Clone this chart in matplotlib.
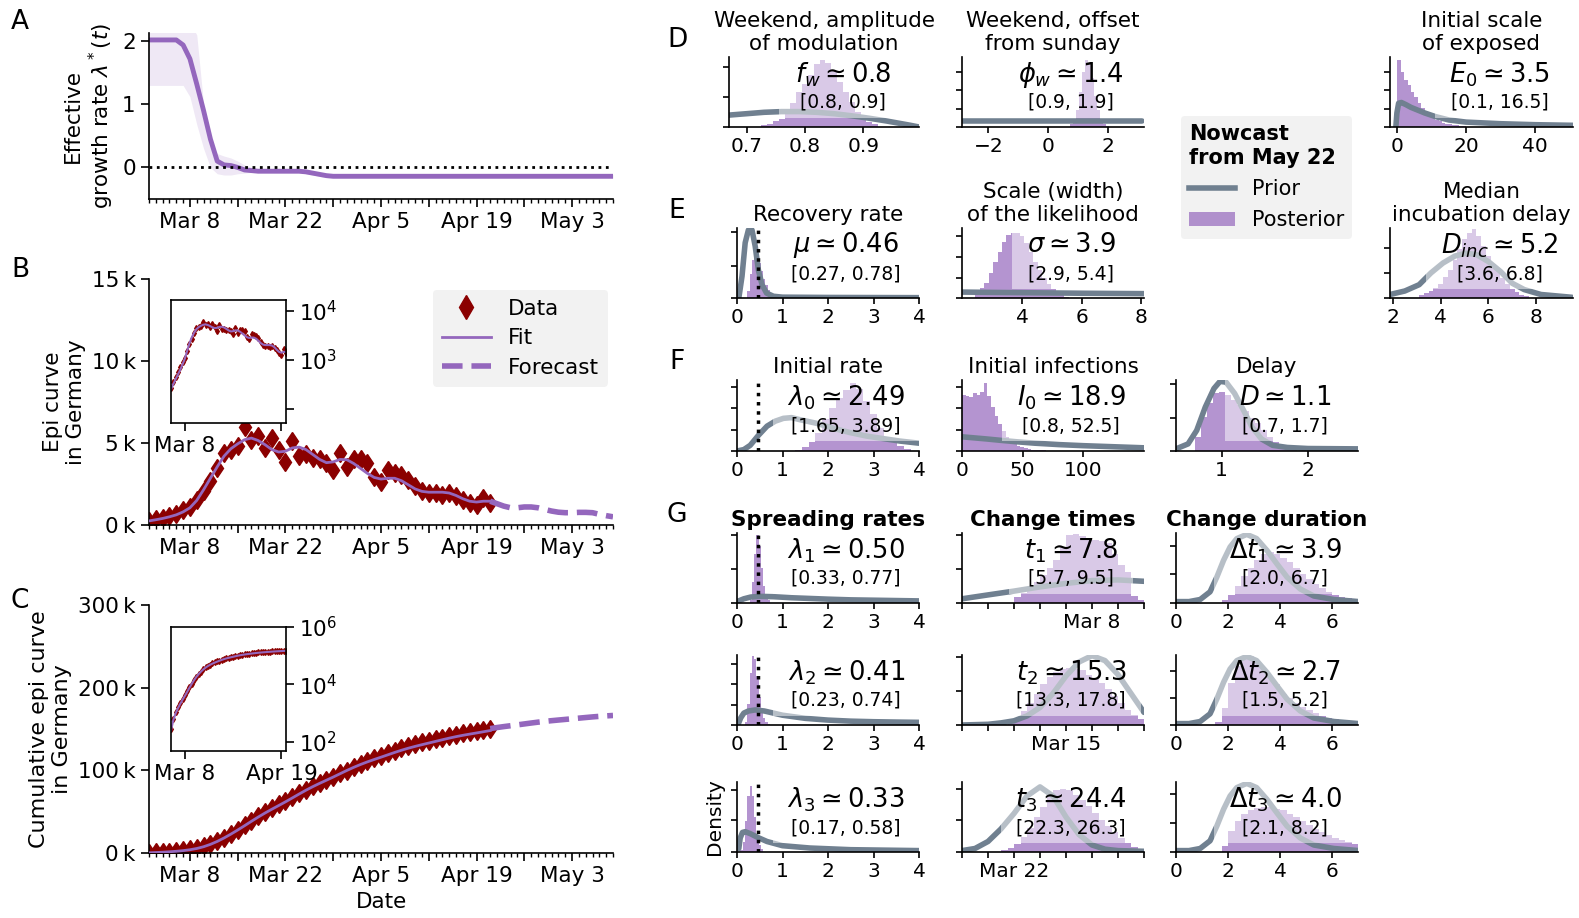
import numpy as np
import pandas as pd
import matplotlib
matplotlib.use("Agg")
import matplotlib.pyplot as plt
import matplotlib.dates as mdates
from matplotlib.ticker import FuncFormatter
from matplotlib.patches import Rectangle, Patch
from matplotlib.lines import Line2D
from matplotlib.transforms import Bbox

plt.rcParams["font.family"] = ["DejaVu Sans"]
plt.rcParams["mathtext.fontset"] = "dejavusans"
plt.rcParams["axes.linewidth"] = 1.2

W, H = 1579, 918
PURPLE = "#9467bd"
PRIOR = "slategray"
DATA = "darkred"

# ---------------- left column data ----------------
# effective growth rate, one value per day from Mar 2
lam_med = ([2.02, 2.02, 2.02, 2.02, 2.02, 1.94, 1.72, 1.32, 0.9, 0.45, 0.1, 0.04, 0.03, 0.0,
            -0.04, -0.05, -0.06, -0.06, -0.06, -0.06, -0.06, -0.06, -0.06, -0.07, -0.09, -0.11, -0.13]
           + [-0.14] * 42)
lam_hi = ([2.3, 2.3, 2.3, 2.3, 2.3, 2.3, 2.3, 2.1, 1.0, 0.42, 0.22, 0.18, 0.15, 0.1, 0.04, 0.0,
           -0.02, -0.03, -0.03, -0.03, -0.03, -0.03, -0.03, -0.05, -0.07, -0.09, -0.1]
          + [-0.11] * 42)
lam_lo = ([1.3, 1.3, 1.3, 1.3, 1.3, 1.3, 1.12, 0.68, 0.3, 0.0, -0.1, -0.12, -0.12, -0.1, -0.09,
           -0.08, -0.08, -0.08, -0.08, -0.08, -0.08, -0.08, -0.08, -0.1, -0.12, -0.14, -0.16]
          + [-0.17] * 42)

# new cases (thousands), Mar 2 .. Apr 21
new_cases_k = [0.27, 0.35, 0.45, 0.55, 0.7, 0.9, 1.1, 1.5, 2.1, 2.7, 3.45, 4.4, 4.6, 4.8, 6.0,
               5.2, 5.4, 4.7, 5.3, 4.6, 3.85, 5.1, 4.2, 4.3, 4.1, 4.0, 3.8, 3.35, 4.4, 3.55,
               4.05, 4.0, 3.8, 2.95, 2.65, 3.35, 3.15, 3.05, 2.75, 2.35, 2.05, 1.95, 1.95, 1.85,
               1.95, 1.75, 1.55, 1.35, 1.25, 1.65, 1.35]
fit_k = [0.25, 0.32, 0.4, 0.5, 0.62, 0.8, 1.05, 1.5, 2.15, 2.85, 3.55, 4.2, 4.65, 4.95, 5.2,
         5.3, 5.15, 4.9, 4.6, 4.45, 4.5, 4.7, 4.75, 4.6, 4.3, 4.0, 3.8, 3.85, 4.0, 3.98,
         3.75, 3.45, 3.15, 2.9, 2.8, 2.85, 2.85, 2.7, 2.45, 2.2, 2.05, 2.0, 2.0, 2.0,
         1.95, 1.8, 1.6, 1.45, 1.4, 1.45, 1.45]
# forecast (thousands), Apr 21 .. May 9
forecast_k = [1.45, 1.3, 1.15, 1.05, 1.05, 1.1, 1.1, 1.05, 0.95, 0.85, 0.78, 0.75, 0.75, 0.77,
              0.77, 0.75, 0.65, 0.57, 0.5]

start = pd.Timestamp("2020-03-02")
days_a = pd.date_range(start, periods=len(lam_med))
days_b = pd.date_range(start, periods=len(new_cases_k))
days_f = pd.date_range("2020-04-21", periods=len(forecast_k))

new_cases = np.array(new_cases_k) * 1000
fit = np.array(fit_k) * 1000
forecast = np.array(forecast_k) * 1000
cum_cases = np.cumsum(new_cases)
cum_fit = np.cumsum(fit)
cum_forecast = cum_cases[-1] + np.concatenate([[0], np.cumsum(forecast[1:])])

# ---------------- right column data (heights as fraction of panel height) ----------------
fw_prior_x = [0.67, 0.70, 0.73, 0.76, 0.79, 0.82, 0.85, 0.88, 0.91, 0.94, 0.96, 0.98, 0.995]
fw_prior_y = [0.17, 0.19, 0.21, 0.22, 0.22, 0.21, 0.19, 0.16, 0.125, 0.085, 0.055, 0.025, 0.0]
fw_hist = [0.03, 0.05, 0.08, 0.12, 0.22, 0.35, 0.50, 0.62, 0.75, 0.90, 0.96, 0.92, 0.80,
           0.65, 0.50, 0.36, 0.22, 0.12, 0.07, 0.04]

phi_prior_x = [-3.14, 3.14]
phi_prior_y = [0.08, 0.08]
phi_hist = [0.04, 0.1, 0.25, 0.5, 0.78, 0.96, 0.9, 0.7, 0.45, 0.25, 0.12, 0.05, 0.02]

e0_prior_x = [-0.4, -0.1, 0.4, 1.2, 2.5, 4, 6, 8, 11, 15, 20, 30, 40, 51]
e0_prior_y = [0.0, 0.2, 0.34, 0.35, 0.32, 0.28, 0.24, 0.2, 0.15, 0.1, 0.07, 0.047, 0.033, 0.024]
e0_hist = [0.96, 0.79, 0.67, 0.60, 0.50, 0.43, 0.34, 0.27, 0.22, 0.17, 0.13, 0.10, 0.08,
           0.06, 0.05, 0.04, 0.03, 0.025, 0.02, 0.015]

mu_prior_x = [0.0, 0.04, 0.11, 0.18, 0.25, 0.29, 0.33, 0.4, 0.47, 0.55, 0.65, 0.8, 1.0, 2.0, 4.0]
mu_prior_y = [0.0, 0.0, 0.31, 0.79, 0.97, 0.99, 0.97, 0.74, 0.4, 0.19, 0.07, 0.025, 0.012, 0.008, 0.005]
mu_hist = [0.1, 0.35, 0.55, 0.62, 0.6, 0.5, 0.38, 0.27, 0.18, 0.12, 0.07, 0.04, 0.02]

sig_prior_x = [1.9, 3, 4, 5, 6, 7, 8.2]
sig_prior_y = [0.085, 0.08, 0.076, 0.072, 0.068, 0.065, 0.062]
sig_hist = [0.08, 0.14, 0.22, 0.36, 0.52, 0.66, 0.8, 0.9, 0.93, 0.93, 0.88, 0.79, 0.66,
            0.52, 0.4, 0.29, 0.2, 0.13, 0.08, 0.04, 0.02]

dinc_prior_x = [1.88, 2.5, 3.1, 3.6, 4.1, 4.6, 5.06, 5.5, 6.0, 6.5, 7.0, 7.5, 8.2, 9.5]
dinc_prior_y = [0.05, 0.1, 0.19, 0.36, 0.5, 0.6, 0.64, 0.62, 0.52, 0.38, 0.21, 0.12, 0.05, 0.01]
dinc_hist = [0.04, 0.07, 0.1, 0.15, 0.2, 0.3, 0.4, 0.55, 0.7, 0.85, 0.93, 0.98, 0.88, 0.75,
             0.6, 0.48, 0.38, 0.28, 0.2, 0.13, 0.09, 0.05, 0.03]

lam0_prior_x = [0.0, 0.15, 0.29, 0.47, 0.66, 0.84, 1.02, 1.2, 1.39, 1.75, 2.12, 2.48, 2.85, 3.21, 3.58, 4.0]
lam0_prior_y = [0.0, 0.02, 0.08, 0.22, 0.35, 0.42, 0.46, 0.47, 0.44, 0.39, 0.32, 0.26, 0.21, 0.175, 0.14, 0.11]
lam0_hist = [0.02, 0.05, 0.12, 0.25, 0.45, 0.6, 0.74, 0.86, 0.96, 0.88, 0.7, 0.52, 0.33,
             0.2, 0.12, 0.07, 0.03]

i0_prior_x = [0, 10, 20, 32, 45, 60, 80, 100, 125, 150]
i0_prior_y = [0.2, 0.185, 0.17, 0.15, 0.13, 0.11, 0.09, 0.075, 0.06, 0.045]
i0_hist = [0.79, 0.77, 0.76, 0.81, 0.79, 0.83, 0.96, 0.78, 0.62, 0.5, 0.38, 0.28, 0.2, 0.14,
           0.1, 0.07, 0.05, 0.04, 0.03, 0.02, 0.02, 0.01, 0.01]

d_prior_x = [0.47, 0.61, 0.71, 0.81, 0.91, 0.98, 1.05, 1.15, 1.25, 1.35, 1.46, 1.59, 1.76, 2.0, 2.58]
d_prior_y = [0.03, 0.1, 0.29, 0.62, 0.88, 0.98, 0.97, 0.81, 0.58, 0.34, 0.17, 0.08, 0.05, 0.035, 0.03]
d_hist = [0.2, 0.48, 0.67, 0.81, 0.83, 0.79, 0.72, 0.65, 0.56, 0.47, 0.39, 0.3, 0.2, 0.13,
          0.08, 0.05, 0.03]

lam1_prior_x = [0.0, 0.15, 0.3, 0.5, 0.8, 1.2, 1.6, 2.0, 2.5, 3.0, 3.5, 4.0]
lam1_prior_y = [0.02, 0.06, 0.085, 0.095, 0.09, 0.075, 0.065, 0.055, 0.045, 0.04, 0.035, 0.03]
lam1_hist = [0.05, 0.3, 0.7, 0.97, 0.82, 0.5, 0.25, 0.1, 0.04]

lam2_prior_x = [0.02, 0.08, 0.15, 0.25, 0.4, 0.6, 0.8, 1.0, 1.5, 2.0, 2.5, 3.0, 3.5, 4.0]
lam2_prior_y = [0.0, 0.1, 0.17, 0.2, 0.215, 0.2, 0.17, 0.14, 0.095, 0.07, 0.055, 0.047, 0.042, 0.038]
lam2_hist = [0.05, 0.3, 0.75, 0.98, 0.95, 0.7, 0.4, 0.22, 0.1, 0.05, 0.02]

lam3_prior_x = [0.04, 0.07, 0.12, 0.18, 0.3, 0.45, 0.66, 1.0, 1.6, 2.5, 4.0]
lam3_prior_y = [0.05, 0.2, 0.28, 0.29, 0.26, 0.21, 0.15, 0.09, 0.057, 0.033, 0.02]
lam3_hist = [0.03, 0.15, 0.45, 0.8, 0.95, 0.8, 0.5, 0.25, 0.1, 0.04]

# change times, in days of March
t1_prior_x = [3, 3.9, 5, 6, 7, 8, 9, 10]
t1_prior_y = [0.06, 0.11, 0.17, 0.23, 0.28, 0.32, 0.33, 0.31]
t1_hist = [0.08, 0.14, 0.22, 0.3, 0.4, 0.5, 0.62, 0.8, 0.97, 0.98, 0.96, 0.9, 0.9, 0.88,
           0.86, 0.7, 0.55, 0.45, 0.1, 0.04]

t2_prior_x = [11, 12, 12.5, 13, 13.5, 14, 14.5, 15, 15.5, 16, 16.5, 17, 17.5, 18]
t2_prior_y = [0.0, 0.01, 0.03, 0.06, 0.13, 0.25, 0.45, 0.7, 0.9, 0.99, 0.92, 0.72, 0.45, 0.18]
t2_hist = [0.03, 0.1, 0.2, 0.32, 0.45, 0.58, 0.68, 0.76, 0.8, 0.82, 0.8, 0.78, 0.72, 0.66,
           0.6, 0.52, 0.42, 0.32, 0.22, 0.14, 0.08]

t3_prior_x = [20, 20.5, 21, 21.5, 22, 22.5, 23, 23.5, 24, 24.5, 25, 25.5, 26, 27]
t3_prior_y = [0.02, 0.05, 0.15, 0.33, 0.55, 0.8, 0.93, 0.8, 0.5, 0.25, 0.1, 0.04, 0.02, 0.01]
t3_hist = [0.03, 0.06, 0.12, 0.22, 0.35, 0.5, 0.65, 0.78, 0.88, 0.9, 0.88, 0.82, 0.75, 0.66,
           0.56, 0.46, 0.37, 0.28, 0.2, 0.13, 0.07, 0.03]

dt_prior_x = [0, 0.5, 0.93, 1.31, 1.57, 1.83, 2.08, 2.34, 2.72, 3.1, 3.5, 3.88, 4.27, 4.78, 5.3, 6.07, 7.03]
dt_prior_y = [0.02, 0.02, 0.05, 0.16, 0.37, 0.61, 0.8, 0.92, 0.98, 0.92, 0.75, 0.56, 0.37, 0.2, 0.1, 0.05, 0.02]
dt1_hist = [0.05, 0.12, 0.25, 0.38, 0.5, 0.62, 0.7, 0.73, 0.7, 0.65, 0.58, 0.5, 0.42, 0.34,
            0.27, 0.21, 0.16, 0.12, 0.09, 0.07, 0.05]
dt2_hist = [0.05, 0.25, 0.6, 0.85, 0.95, 0.98, 0.9, 0.8, 0.69, 0.58, 0.45, 0.38, 0.31, 0.26,
            0.21, 0.17, 0.13, 0.1, 0.08, 0.06, 0.05, 0.04]
dt3_hist = [0.08, 0.3, 0.45, 0.55, 0.6, 0.63, 0.65, 0.65, 0.62, 0.6, 0.55, 0.5, 0.44, 0.38,
            0.33, 0.28, 0.24, 0.2, 0.17, 0.14, 0.11]

fig = plt.figure(figsize=(W / 100, H / 100), dpi=100)

LEFT_FS = 15.5


def place(x0, y0, x1, y1):
    return fig.add_axes([x0 / W, 1 - y1 / H, (x1 - x0) / W, (y1 - y0) / H])


def date_axis(ax):
    ax.set_xlim(start, pd.Timestamp("2020-05-09"))
    ax.xaxis.set_major_locator(mdates.WeekdayLocator(byweekday=mdates.SU))
    ax.xaxis.set_minor_locator(mdates.DayLocator())

    def fmt(v, pos):
        d = mdates.num2date(v)
        if (d.date() - pd.Timestamp("2020-03-08").date()).days % 14 == 0:
            return f"{d:%b} {d.day}"
        return ""
    ax.xaxis.set_major_formatter(FuncFormatter(fmt))
    ax.tick_params(which="major", length=6, width=1.2, labelsize=LEFT_FS)
    ax.tick_params(which="minor", length=3, width=1.0)
    ax.spines["top"].set_visible(False)
    ax.spines["right"].set_visible(False)


kfmt = FuncFormatter(lambda v, p: f"{int(round(v / 1000))}\u2009k")

# ---- A ----
ax_a = place(149, 33, 613, 199)
ax_a.fill_between(days_a, lam_lo, lam_hi, color=PURPLE, alpha=0.15, lw=0)
ax_a.plot(days_a, lam_med, color=PURPLE, lw=3.5)
ax_a.axhline(0, color="black", ls=":", lw=2)
ax_a.set_ylim(-0.5, 2.13)
ax_a.set_yticks([0, 1, 2])
date_axis(ax_a)
ax_a.set_ylabel("Effective\ngrowth rate $\\lambda^*(t)$", fontsize=LEFT_FS)

# ---- B ----
ax_b = place(149, 279, 613, 525)
ax_b.plot(days_b, new_cases, ls="none", marker="d", color=DATA, ms=9.5, zorder=2)
ax_b.plot(days_b, fit, color=PURPLE, lw=2, zorder=3)
ax_b.plot(days_f, forecast, color=PURPLE, lw=4, ls="--", zorder=3)
ax_b.set_ylim(0, 15000)
ax_b.set_yticks([0, 5000, 10000, 15000])
ax_b.yaxis.set_major_formatter(kfmt)
date_axis(ax_b)
ax_b.set_ylabel("Epi curve\nin Germany", fontsize=LEFT_FS)

fig.legend(handles=[Line2D([], [], ls="none", marker="d", color=DATA, ms=12),
                    Line2D([], [], color=PURPLE, lw=2),
                    Line2D([], [], color=PURPLE, lw=4, ls="--")],
           labels=["Data", "Fit", "Forecast"], loc="upper left",
           bbox_to_anchor=(433 / W, 1 - 290 / H), borderaxespad=0, fontsize=LEFT_FS,
           frameon=True, facecolor="#f2f2f2", edgecolor="none", framealpha=1,
           handlelength=2.3, handletextpad=0.8, labelspacing=0.45)

ins_b = place(171, 300, 286, 423)
ins_b.plot(days_b, new_cases, ls="none", marker="d", color=DATA, ms=3)
ins_b.plot(days_b, fit, color=PURPLE, lw=1.5)
ins_b.set_yscale("log")
ins_b.set_ylim(51, 1.67e4)
ins_b.set_xlim(start, pd.Timestamp("2020-04-21"))
ins_b.set_yticks([1e2, 1e3, 1e4])
ins_b.set_yticklabels(["", "$10^3$", "$10^4$"])
ins_b.yaxis.set_minor_locator(plt.NullLocator())
ins_b.set_xticks([pd.Timestamp("2020-03-08"), pd.Timestamp("2020-04-19")])
ins_b.set_xticklabels(["Mar 8", ""])
ins_b.yaxis.tick_right()
ins_b.tick_params(labelsize=LEFT_FS, length=6, width=1.2)

# ---- C ----
ax_c = place(149, 605, 613, 853)
ax_c.plot(days_b, cum_cases, ls="none", marker="d", color=DATA, ms=9.5, zorder=2)
ax_c.plot(days_b, cum_fit, color=PURPLE, lw=2, zorder=3)
ax_c.plot(days_f, cum_forecast, color=PURPLE, lw=4, ls="--", zorder=3)
ax_c.set_ylim(0, 300000)
ax_c.set_yticks([0, 100000, 200000, 300000])
ax_c.yaxis.set_major_formatter(kfmt)
date_axis(ax_c)
ax_c.set_ylabel("Cumulative epi curve\nin Germany", fontsize=LEFT_FS + 0.5)
ax_c.set_xlabel("Date", fontsize=LEFT_FS)

ins_c = place(171, 627, 286, 751)
ins_c.plot(days_b, cum_cases, ls="none", marker="d", color=DATA, ms=3)
ins_c.plot(days_b, cum_fit, color=PURPLE, lw=1.5)
ins_c.set_yscale("log")
ins_c.set_ylim(48, 1e6)
ins_c.set_xlim(start, pd.Timestamp("2020-04-21"))
ins_c.set_yticks([1e2, 1e4, 1e6])
ins_c.set_yticklabels(["$10^2$", "$10^4$", "$10^6$"])
ins_c.yaxis.set_minor_locator(plt.NullLocator())
ins_c.set_xticks([pd.Timestamp("2020-03-08"), pd.Timestamp("2020-04-19")])
ins_c.set_xticklabels(["Mar 8", "Apr 19"])
ins_c.yaxis.tick_right()
ins_c.tick_params(labelsize=LEFT_FS, length=6, width=1.2)

# ---- right side distributions ----
text_boxes = []


def dist_panel(rect, xlim, xticks, xlabels, yticks, prior_x, prior_y, hist_start, width,
               hist_h, line1, line2, title=None, bold=False, vline=None):
    ax = place(*rect)
    hx = hist_start + width * np.arange(len(hist_h))
    ax.bar(hx, hist_h, width=width, color=PURPLE, alpha=0.7, lw=0, zorder=1)
    ax.plot(prior_x, prior_y, color=PRIOR, lw=4, solid_capstyle="round", zorder=2)
    if vline is not None:
        ax.axvline(vline, color="black", ls=":", lw=2.5, zorder=5)
    ax.set_xlim(*xlim)
    ax.set_ylim(0, 1)
    ax.set_xticks(xticks)
    ax.set_xticklabels(xlabels)
    ax.set_yticks(yticks)
    ax.set_yticklabels([])
    ax.spines["top"].set_visible(False)
    ax.spines["right"].set_visible(False)
    ax.tick_params(labelsize=14.5, length=4, width=1.2)
    t1 = ax.text(0.6, 0.75, line1, transform=ax.transAxes, ha="center", va="center",
                 fontsize=18.5, zorder=6)
    t2 = ax.text(0.6, 0.35, line2, transform=ax.transAxes, ha="center", va="center",
                 fontsize=13.5, zorder=6)
    if title:
        ax.set_title(title, fontsize=15.5, pad=5, fontweight="bold" if bold else "normal")
    text_boxes.append((ax, t1, t2))
    return ax


c1, c1d, c2, c3, c4 = (737, 919), (729, 919), (962, 1144), (1176, 1358), (1390, 1573)
rD, rE, rF, rG1, rG2, rG3 = (57, 127), (228, 298), (380, 451), (533, 603), (655, 725), (782, 852)


def R(c, r):
    return (c[0], r[0], c[1], r[1])


dist_panel(R(c1d, rD), (0.67, 0.995), [0.7, 0.8, 0.9], ["0.7", "0.8", "0.9"], [0, 0.43, 0.86],
           fw_prior_x, fw_prior_y, 0.73, 0.01, fw_hist, "$f_w \\simeq 0.8$", "[0.8, 0.9]",
           title="Weekend, amplitude\nof modulation")
dist_panel(R(c2, rD), (-2.88, 3.22), [-2, 0, 2], ["\u22122", "0", "2"], [0, 0.26, 0.53, 0.79],
           phi_prior_x, phi_prior_y, 0.8, 0.1, phi_hist, "$\\phi_w \\simeq 1.4$", "[0.9, 1.9]",
           title="Weekend, offset\nfrom sunday")
dist_panel(R(c4, rD), (-2.1, 51), [0, 20, 40], ["0", "20", "40"], [0, 0.26, 0.53, 0.79],
           e0_prior_x, e0_prior_y, 0.5, 1.0, e0_hist, "$E_0 \\simeq 3.5$", "[0.1, 16.5]",
           title="Initial scale\nof exposed")

dist_panel(R(c1, rE), (0, 4), [0, 1, 2, 3, 4], ["0", "1", "2", "3", "4"], [0, 0.46, 0.94],
           mu_prior_x, mu_prior_y, 0.25, 0.05, mu_hist, "$\\mu \\simeq 0.46$", "[0.27, 0.78]",
           title="Recovery rate", vline=0.46)
dist_panel(R(c2, rE), (1.98, 8.1), [4, 6, 8], ["4", "6", "8"], [0, 0.29, 0.58, 0.88],
           sig_prior_x, sig_prior_y, 2.5, 0.15, sig_hist, "$\\sigma \\simeq 3.9$", "[2.9, 5.4]",
           title="Scale (width)\nof the likelihood")
dist_panel(R(c4, rE), (1.88, 9.54), [2, 4, 6, 8], ["2", "4", "6", "8"], [0, 0.36, 0.71],
           dinc_prior_x, dinc_prior_y, 3.2, 0.2, dinc_hist, "$D_{inc} \\simeq 5.2$", "[3.6, 6.8]",
           title="Median\nincubation delay")

dist_panel(R(c1, rF), (0, 4), [0, 1, 2, 3, 4], ["0", "1", "2", "3", "4"], [0, 0.3, 0.6, 0.906],
           lam0_prior_x, lam0_prior_y, 1.35, 0.15, lam0_hist, "$\\lambda_0 \\simeq 2.49$",
           "[1.65, 3.89]", title="Initial rate", vline=0.46)
dist_panel(R(c2, rF), (0, 150), [0, 50, 100], ["0", "50", "100"], [0, 0.3, 0.6, 0.906],
           i0_prior_x, i0_prior_y, 1.5, 3.0, i0_hist, "$I_0 \\simeq 18.9$", "[0.8, 52.5]",
           title="Initial infections")
dist_panel(R(c3, rF), (0.47, 2.58), [1, 2], ["1", "2"], [0, 0.47, 0.94],
           d_prior_x, d_prior_y, 0.72, 0.07, d_hist, "$D \\simeq 1.1$", "[0.7, 1.7]",
           title="Delay")

lam_ticks = [0, 1, 2, 3, 4]
lam_labels = ["0", "1", "2", "3", "4"]
dist_panel(R(c1, rG1), (0, 4), lam_ticks, lam_labels, [0, 0.48, 0.97],
           lam1_prior_x, lam1_prior_y, 0.3, 0.05, lam1_hist, "$\\lambda_1 \\simeq 0.50$",
           "[0.33, 0.77]", title="Spreading rates", bold=True, vline=0.46)
dist_panel(R(c1, rG2), (0, 4), lam_ticks, lam_labels, [0, 0.29, 0.58, 0.87],
           lam2_prior_x, lam2_prior_y, 0.2, 0.05, lam2_hist, "$\\lambda_2 \\simeq 0.41$",
           "[0.23, 0.74]", vline=0.46)
ax_l3 = dist_panel(R(c1, rG3), (0, 4), lam_ticks, lam_labels, [0, 0.46, 0.88],
                   lam3_prior_x, lam3_prior_y, 0.1, 0.05, lam3_hist, "$\\lambda_3 \\simeq 0.33$",
                   "[0.17, 0.58]", vline=0.46)
ax_l3.set_ylabel("Density", fontsize=14.5, labelpad=2)


def day_ticks(lo, hi, lab):
    ticks = list(range(lo, hi + 1))
    return ticks, [f"Mar {d}" if d == lab else "" for d in ticks]


tk, tl = day_ticks(3, 10, 8)
dist_panel(R(c2, rG1), (3, 10), tk, tl, [0, 0.485, 0.97], t1_prior_x, t1_prior_y,
           5.125, 0.25, t1_hist, "$t_1 \\simeq 7.8$", "[5.7, 9.5]", title="Change times", bold=True)
tk, tl = day_ticks(11, 18, 15)
dist_panel(R(c2, rG2), (11, 18), tk, tl, [0, 0.49, 0.976], t2_prior_x, t2_prior_y,
           12.875, 0.25, t2_hist, "$t_2 \\simeq 15.3$", "[13.3, 17.8]")
tk, tl = day_ticks(20, 27, 22)
dist_panel(R(c2, rG3), (20, 27), tk, tl, [0, 0.46, 0.905], t3_prior_x, t3_prior_y,
           21.625, 0.25, t3_hist, "$t_3 \\simeq 24.4$", "[22.3, 26.3]")

dt_ticks = [0, 2, 4, 6]
dt_labels = ["0", "2", "4", "6"]
dist_panel(R(c3, rG1), (0, 7), dt_ticks, dt_labels, [0, 0.42, 0.82], dt_prior_x, dt_prior_y,
           1.875, 0.25, dt1_hist, "$\\Delta t_1 \\simeq 3.9$", "[2.0, 6.7]",
           title="Change duration", bold=True)
dist_panel(R(c3, rG2), (0, 7), dt_ticks, dt_labels, [0, 0.39, 0.77], dt_prior_x, dt_prior_y,
           1.625, 0.25, dt2_hist, "$\\Delta t_2 \\simeq 2.7$", "[1.5, 5.2]")
dist_panel(R(c3, rG3), (0, 7), dt_ticks, dt_labels, [0, 0.41, 0.83], dt_prior_x, dt_prior_y,
           1.875, 0.25, dt3_hist, "$\\Delta t_3 \\simeq 4.0$", "[2.1, 8.2]")

# legend for the distributions
leg = fig.legend(handles=[Line2D([], [], color=PRIOR, lw=4),
                          Patch(facecolor=PURPLE, alpha=0.7, lw=0)],
                 labels=["Prior", "Posterior"], loc="upper left",
                 bbox_to_anchor=(1181 / W, 1 - 116 / H), borderaxespad=0,
                 title="Nowcast\nfrom May 22", title_fontproperties={"weight": "bold", "size": 15},
                 alignment="left", fontsize=15, frameon=True, facecolor="#f2f2f2",
                 edgecolor="none", framealpha=1, handlelength=2.2, handletextpad=0.8,
                 labelspacing=0.55)
fig.add_artist(Line2D([1184 / W, 1348 / W], [1 - 178 / H, 1 - 178 / H],
                      transform=fig.transFigure, color="#dddddd", lw=0.8))

# panel letters
for letter, x, y in [("A", 20, 22), ("B", 20, 270), ("C", 20, 601), ("D", 677, 40),
                     ("E", 677, 211), ("F", 677, 362), ("G", 677, 515)]:
    fig.text(x / W, 1 - y / H, letter, fontsize=19, ha="center", va="center")

# white translucent boxes behind the median / interval texts
fig.canvas.draw()
renderer = fig.canvas.get_renderer()
for ax, t1, t2 in text_boxes:
    bb = Bbox.union([t1.get_window_extent(renderer), t2.get_window_extent(renderer)])
    (x0, y0), (x1, y1) = ax.transAxes.inverted().transform([[bb.x0, bb.y0], [bb.x1, bb.y1]])
    ax.add_patch(Rectangle((x0 - 0.08, y0 - 0.08), (x1 - x0) + 0.16, (y1 - y0) + 0.16,
                           transform=ax.transAxes, facecolor="white", alpha=0.5,
                           edgecolor="none", zorder=3))

fig.savefig("out.png", dpi=100)
